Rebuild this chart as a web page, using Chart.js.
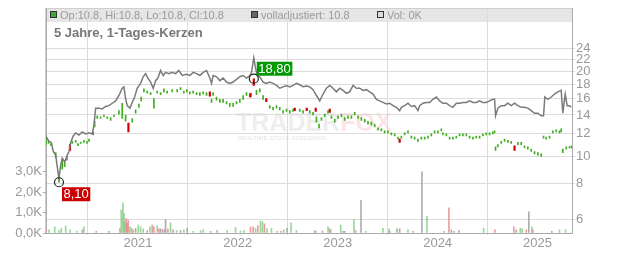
<!DOCTYPE html>
<html>
<head>
<meta charset="utf-8">
<script src="https://cdn.jsdelivr.net/npm/chart.js@4/dist/chart.umd.min.js"></script>
<style>
    body { margin: 0; background: #fff; }
    #wrap { width: 632px; height: 253px; }
</style>
</head>
<body>
<div id="wrap"><canvas id="kursChart" width="632" height="253"></canvas></div>
<script>
// Zeitachse als Dezimaljahre
const yearTicks = [2021, 2022, 2023, 2024, 2025];
const priceTicks = [24, 22, 20, 18, 16, 14, 12, 10, 8, 6];
const volTicks = [0, 1, 2, 3];

// volladjustiert (graue Linie)
const priceDates = [
    2020.077, 2020.11, 2020.133, 2020.153, 2020.177, 2020.20, 2020.21, 2020.227, 2020.243, 2020.267,
    2020.293, 2020.31, 2020.327, 2020.353, 2020.377, 2020.41, 2020.443, 2020.477, 2020.51, 2020.543,
    2020.56, 2020.577, 2020.61, 2020.643, 2020.677, 2020.71, 2020.743, 2020.777, 2020.81, 2020.843,
    2020.86, 2020.877, 2020.893, 2020.92, 2020.943, 2020.967, 2020.993, 2021.027, 2021.053, 2021.077,
    2021.10, 2021.127, 2021.153, 2021.177, 2021.20, 2021.227, 2021.253, 2021.277, 2021.31, 2021.343,
    2021.377, 2021.41, 2021.443, 2021.487, 2021.52, 2021.553, 2021.587, 2021.62, 2021.653, 2021.687,
    2021.72, 2021.737, 2021.753, 2021.787, 2021.82, 2021.853, 2021.887, 2021.92, 2021.953, 2021.987,
    2022.02, 2022.053, 2022.087, 2022.12, 2022.137, 2022.16, 2022.173, 2022.193, 2022.22, 2022.253,
    2022.287, 2022.32, 2022.353, 2022.387, 2022.42, 2022.453, 2022.487, 2022.52, 2022.553, 2022.587,
    2022.62, 2022.653, 2022.687, 2022.72, 2022.753, 2022.787, 2022.82, 2022.853, 2022.887, 2022.92,
    2022.953, 2022.987, 2023.02, 2023.053, 2023.087, 2023.12, 2023.153, 2023.187, 2023.22, 2023.253,
    2023.287, 2023.32, 2023.353, 2023.387, 2023.42, 2023.453, 2023.487, 2023.52, 2023.553, 2023.587,
    2023.62, 2023.637, 2023.67, 2023.703, 2023.737, 2023.77, 2023.803, 2023.82, 2023.853, 2023.887,
    2023.92, 2023.953, 2023.987, 2024.02, 2024.053, 2024.087, 2024.12, 2024.153, 2024.187, 2024.22,
    2024.253, 2024.287, 2024.32, 2024.353, 2024.387, 2024.42, 2024.453, 2024.487, 2024.52, 2024.553,
    2024.57, 2024.58, 2024.603, 2024.637, 2024.67, 2024.703, 2024.737, 2024.77, 2024.803, 2024.837,
    2024.87, 2024.903, 2024.937, 2024.97, 2025.003, 2025.037, 2025.06, 2025.073, 2025.103, 2025.137,
    2025.17, 2025.203, 2025.237, 2025.253, 2025.277, 2025.297, 2025.32, 2025.337
];
const priceValues = [
    11.8, 11.3, 11.2, 10.4, 10.1, 8.8, 8.4, 9.3, 9.85, 9.55,
    10.1, 10.4, 11.2, 11.8, 12.1, 11.9, 12.2, 12.0, 12.1, 12.0,
    12.9, 14.8, 14.8, 14.7, 15.0, 15.1, 15.4, 15.7, 16.4, 17.4,
    17.6, 16.0, 15.1, 14.8, 15.5, 16.2, 17.4, 18.1, 19.1, 19.6,
    18.9, 18.3, 17.4, 18.5, 18.9, 20.1, 19.3, 19.8, 19.6, 19.8,
    19.6, 20.1, 19.3, 19.5, 19.3, 19.8, 19.6, 19.3, 19.8, 20.1,
    18.9, 18.1, 19.3, 19.1, 18.5, 18.9, 18.3, 18.1, 18.3, 18.7,
    19.1, 19.3, 18.9, 19.3, 19.8, 22.3, 20.9, 19.3, 19.1, 18.3,
    18.1, 18.3, 18.1, 17.8, 17.4, 17.6, 17.8, 17.6, 17.8, 18.1,
    17.9, 17.6, 17.7, 17.6, 17.2, 16.4, 15.7, 16.6, 17.4, 17.8,
    17.4, 16.9, 17.4, 17.1, 16.7, 16.9, 17.8, 17.4, 17.4, 17.1,
    17.2, 16.9, 16.6, 15.9, 15.7, 15.5, 15.3, 15.4, 15.1, 14.9,
    14.5, 14.9, 15.1, 15.4, 15.0, 15.1, 14.5, 15.1, 15.4, 15.5,
    15.5, 15.9, 16.2, 15.7, 15.4, 15.4, 15.1, 14.9, 15.4, 15.4,
    15.5, 15.5, 15.7, 15.5, 15.5, 15.7, 15.5, 15.5, 15.7, 15.9,
    15.9, 13.9, 14.8, 15.1, 15.1, 15.4, 15.1, 15.4, 15.1, 14.9,
    14.9, 14.8, 14.5, 14.2, 14.2, 13.9, 13.9, 16.2, 15.9, 16.2,
    16.6, 16.9, 17.1, 14.2, 16.6, 15.1, 15.1, 14.9
];

// Tageskerzen, steigend (gruen): Tief / Hoch
const candleDates = [
    2020.08, 2020.105, 2020.13, 2020.177, 2020.21, 2020.243, 2020.267, 2020.29, 2020.343, 2020.377,
    2020.40, 2020.427, 2020.46, 2020.49, 2020.51, 2020.553, 2020.567, 2020.593, 2020.627, 2020.66,
    2020.693, 2020.727, 2020.76, 2020.81, 2020.843, 2020.877, 2020.943, 2020.977, 2021.01, 2021.033,
    2021.06, 2021.093, 2021.127, 2021.16, 2021.193, 2021.227, 2021.26, 2021.293, 2021.343, 2021.393,
    2021.427, 2021.46, 2021.49, 2021.52, 2021.553, 2021.587, 2021.62, 2021.653, 2021.687, 2021.737,
    2021.753, 2021.787, 2021.82, 2021.853, 2021.887, 2021.92, 2021.953, 2021.987, 2022.02, 2022.053,
    2022.087, 2022.12, 2022.187, 2022.22, 2022.253, 2022.32, 2022.353, 2022.387, 2022.42, 2022.453,
    2022.487, 2022.52, 2022.553, 2022.62, 2022.653, 2022.72, 2022.753, 2022.787, 2022.813, 2022.837,
    2022.87, 2022.903, 2022.937, 2022.97, 2023.003, 2023.037, 2023.07, 2023.103, 2023.137, 2023.17,
    2023.203, 2023.237, 2023.27, 2023.303, 2023.337, 2023.37, 2023.403, 2023.437, 2023.47, 2023.503,
    2023.537, 2023.57, 2023.603, 2023.637, 2023.67, 2023.703, 2023.737, 2023.77, 2023.803, 2023.837,
    2023.87, 2023.903, 2023.937, 2023.97, 2024.003, 2024.037, 2024.053, 2024.087, 2024.12, 2024.153,
    2024.187, 2024.22, 2024.253, 2024.287, 2024.32, 2024.353, 2024.387, 2024.42, 2024.453, 2024.487,
    2024.52, 2024.553, 2024.57, 2024.58, 2024.603, 2024.637, 2024.67, 2024.703, 2024.737, 2024.803,
    2024.837, 2024.87, 2024.903, 2024.937, 2024.97, 2025.003, 2025.037, 2025.06, 2025.087, 2025.12,
    2025.153, 2025.187, 2025.22, 2025.237, 2025.253, 2025.287, 2025.32, 2025.34
];
const candleLows = [
    11.0, 11.1, 10.9, 9.9, 8.1, 9.0, 9.2, 9.7, 11.1, 11.2,
    10.9, 11.1, 11.2, 11.1, 11.3, 11.9, 12.7, 13.6, 13.6, 13.8,
    13.6, 13.4, 13.8, 14.1, 13.6, 13.3, 13.2, 14.2, 14.9, 15.7,
    16.9, 16.7, 16.5, 14.8, 16.7, 16.5, 16.9, 16.7, 16.9, 16.9,
    17.2, 16.7, 16.9, 16.6, 16.7, 16.5, 16.4, 16.6, 16.4, 15.5,
    16.4, 15.8, 15.5, 15.5, 15.3, 15.0, 15.0, 15.3, 15.5, 15.9,
    16.4, 16.2, 16.5, 16.9, 15.9, 14.8, 14.6, 14.8, 14.6, 14.2,
    14.4, 14.2, 14.4, 14.4, 14.2, 14.2, 14.0, 13.2, 12.6, 13.4,
    13.8, 14.2, 13.6, 13.2, 13.6, 13.8, 13.4, 13.6, 13.6, 14.0,
    13.6, 13.4, 13.2, 13.0, 12.9, 12.7, 12.4, 12.3, 12.1, 12.1,
    11.9, 11.8, 11.5, 11.6, 11.9, 12.1, 11.6, 11.5, 11.3, 11.5,
    11.5, 11.6, 11.8, 12.1, 12.1, 12.3, 11.9, 11.8, 11.5, 11.5,
    11.6, 11.8, 11.8, 11.8, 11.6, 11.5, 11.6, 11.6, 11.8, 11.9,
    11.9, 12.0, 12.1, 10.5, 10.8, 11.1, 11.3, 11.2, 11.1, 11.0,
    11.0, 10.7, 10.6, 10.4, 10.2, 10.1, 10.0, 11.6, 11.5, 11.6,
    12.1, 12.2, 12.1, 12.2, 10.3, 10.6, 10.7, 10.7
];
const candleHighs = [
    11.8, 11.3, 11.1, 10.3, 8.6, 9.6, 9.5, 10.0, 11.3, 11.4,
    11.1, 11.2, 11.4, 11.3, 11.5, 12.2, 13.3, 13.9, 13.8, 14.0,
    13.8, 13.7, 14.0, 14.5, 15.4, 14.0, 13.6, 14.6, 15.3, 16.2,
    17.3, 17.0, 16.8, 16.0, 17.0, 16.8, 17.3, 17.0, 17.2, 17.2,
    17.5, 17.0, 17.2, 16.9, 17.0, 16.8, 16.8, 16.9, 16.8, 15.9,
    16.8, 16.2, 15.9, 15.9, 15.6, 15.4, 15.4, 15.6, 15.9, 16.4,
    16.8, 16.6, 17.1, 17.3, 16.4, 15.1, 14.9, 15.1, 14.9, 14.5,
    14.7, 14.5, 14.7, 14.7, 14.5, 14.5, 14.3, 13.8, 13.0, 13.7,
    14.1, 14.5, 13.9, 13.5, 13.9, 14.1, 13.7, 13.9, 13.9, 14.3,
    13.9, 13.7, 13.5, 13.3, 13.2, 13.0, 12.6, 12.5, 12.3, 12.3,
    12.1, 12.0, 11.7, 11.8, 12.1, 12.3, 11.8, 11.7, 11.5, 11.7,
    11.7, 11.8, 12.0, 12.3, 12.3, 12.5, 12.1, 12.0, 11.7, 11.7,
    11.8, 12.0, 12.0, 12.0, 11.8, 11.7, 11.8, 11.8, 12.0, 12.1,
    12.1, 12.2, 12.3, 10.8, 11.0, 11.3, 11.5, 11.4, 11.3, 11.2,
    11.2, 10.9, 10.8, 10.6, 10.4, 10.3, 10.2, 11.8, 11.7, 11.8,
    12.3, 12.4, 12.3, 12.5, 10.6, 10.8, 10.8, 10.9
];

// Tageskerzen, fallend (rot)
const redDates = [2020.32, 2020.905, 2021.72, 2022.127, 2022.16, 2022.285, 2022.57, 2022.69, 2022.78, 2022.92, 2023.62, 2024.77];
const redLows = [10.5, 12.2, 16.3, 16.2, 17.8, 15.6, 14.5, 14.5, 14.4, 14.3, 11.2, 10.5];
const redHighs = [11.0, 13.1, 16.9, 16.7, 18.8, 16.0, 14.8, 14.8, 14.8, 14.7, 11.5, 10.9];

// Volumen in Tausend, Art: g = steigend, r = fallend, n = neutral
const volDates = [
    2020.077, 2020.11, 2020.167, 2020.21, 2020.233, 2020.277, 2020.32, 2020.387, 2020.443, 2020.46,
    2020.583, 2020.71, 2020.82, 2020.833, 2020.85, 2020.86, 2020.87, 2020.883, 2020.893, 2020.903,
    2020.92, 2020.937, 2020.953, 2020.977, 2021.003, 2021.027, 2021.053, 2021.093, 2021.12, 2021.143,
    2021.16, 2021.193, 2021.21, 2021.227, 2021.247, 2021.267, 2021.277, 2021.30, 2021.327, 2021.353,
    2021.387, 2021.427, 2021.46, 2021.493, 2021.553, 2021.627, 2021.653, 2021.727, 2021.793, 2021.893,
    2021.977, 2022.027, 2022.06, 2022.127, 2022.153, 2022.177, 2022.20, 2022.227, 2022.247, 2022.267,
    2022.293, 2022.337, 2022.393, 2022.433, 2022.46, 2022.493, 2022.533, 2022.587, 2022.77, 2022.78,
    2022.847, 2022.903, 2022.92, 2022.93, 2023.03, 2023.053, 2023.07, 2023.163, 2023.18, 2023.233,
    2023.28, 2023.453, 2023.513, 2023.52, 2023.593, 2023.62, 2023.703, 2023.753, 2023.843, 2023.893,
    2024.063, 2024.113, 2024.137, 2024.163, 2024.213, 2024.46, 2024.573, 2024.763, 2024.787, 2024.827,
    2024.847, 2024.887, 2024.913, 2024.943, 2024.953, 2025.143, 2025.22, 2025.28
];
const volValues = [
    0.2, 0.15, 0.3, 0.12, 0.23, 0.34, 0.15, 0.1, 0.15, 0.3,
    0.08, 0.08, 0.23, 1.12, 1.48, 0.96, 0.55, 0.71, 0.47, 0.63,
    0.3, 0.23, 0.15, 0.23, 0.39, 0.3, 0.2, 0.12, 0.3, 0.39,
    0.3, 0.36, 0.2, 0.2, 0.18, 0.15, 0.67, 0.2, 0.5, 0.15,
    0.12, 0.12, 0.15, 0.23, 0.08, 0.12, 0.15, 0.08, 0.12, 0.12,
    0.28, 0.1, 0.12, 0.3, 0.3, 0.23, 0.36, 0.58, 0.55, 0.45,
    0.2, 0.23, 0.08, 0.1, 0.15, 0.23, 0.5, 0.12, 0.12, 0.08,
    0.1, 0.3, 0.2, 0.15, 0.39, 0.08, 0.08, 0.67, 0.12, 1.6,
    0.08, 0.23, 0.2, 0.08, 0.2, 0.2, 0.15, 0.08, 3.0, 0.83,
    0.08, 1.23, 0.15, 0.08, 0.12, 0.23, 0.15, 0.3, 0.15, 0.23,
    0.2, 0.15, 1.04, 0.3, 0.15, 0.08, 0.15, 0.15
];
const volKinds = [
    'r', 'g', 'g', 'g', 'g', 'g', 'g', 'g', 'n', 'g',
    'r', 'n', 'r', 'g', 'g', 'g', 'g', 'r', 'r', 'r',
    'g', 'g', 'r', 'n', 'g', 'g', 'g', 'n', 'g', 'r',
    'r', 'g', 'r', 'n', 'r', 'n', 'n', 'r', 'g', 'n',
    'g', 'n', 'g', 'n', 'g', 'g', 'g', 'r', 'n', 'g',
    'g', 'g', 'g', 'r', 'r', 'g', 'r', 'g', 'g', 'r',
    'g', 'g', 'r', 'r', 'g', 'n', 'g', 'g', 'g', 'r',
    'n', 'g', 'g', 'r', 'g', 'n', 'n', 'g', 'r', 'n',
    'g', 'g', 'g', 'n', 'n', 'n', 'g', 'r', 'n', 'g',
    'g', 'r', 'n', 'n', 'n', 'g', 'r', 'r', 'n', 'g',
    'g', 'r', 'n', 'g', 'r', 'n', 'g', 'g'
];

// Tief / Hoch Markierungen
const markDates = [2020.21, 2022.16];
const markValues = [8.10, 18.80];
const markLabels = ['8,10', '18,80'];
const markColors = ['#cc0000', '#009900'];

const volColors = { g: 'rgba(120,200,120,0.75)', r: 'rgba(235,130,140,0.8)', n: 'rgba(160,160,160,0.85)' };
const FONT = "'Liberation Sans', Arial, sans-serif";

// Kopfzeile, Titel und Wasserzeichen
const headerPlugin = {
    id: 'header',
    beforeDraw(chart) {
        const { ctx, chartArea } = chart;
        const l = chartArea.left, r = chartArea.right;
        ctx.save();
        ctx.fillStyle = '#e6e6e6';
        ctx.fillRect(l, 8, r - l, 14);
        ctx.strokeStyle = '#cfcfcf';
        ctx.lineWidth = 1;
        ctx.strokeRect(l - 0.5, 8.5, r - l + 1, 225);

        const items = [
            { x: 50, fill: '#3aaa35', text: 'Op:10.8, Hi:10.8, Lo:10.8, Cl:10.8' },
            { x: 251, fill: '#666666', text: 'volladjustiert: 10.8' },
            { x: 377, fill: '#dddddd', text: 'Vol: 0K' }
        ];
        ctx.font = '11px ' + FONT;
        ctx.textBaseline = 'middle';
        items.forEach(it => {
            ctx.fillStyle = it.fill;
            ctx.fillRect(it.x + 0.5, 11.5, 6, 6);
            ctx.strokeStyle = '#333';
            ctx.strokeRect(it.x + 0.5, 11.5, 6, 6);
            ctx.fillStyle = '#999';
            ctx.fillText(it.text, it.x + 10, 15.5);
        });

        ctx.font = 'bold 13px ' + FONT;
        ctx.fillStyle = '#777';
        ctx.fillText('5 Jahre, 1-Tages-Kerzen', 54, 33);

        // Wasserzeichen
        ctx.font = 'bold 25px ' + FONT;
        ctx.textBaseline = 'alphabetic';
        ctx.fillStyle = 'rgba(200,200,200,0.3)';
        ctx.fillText('TRADER', 236, 131);
        const w = ctx.measureText('TRADER').width;
        ctx.fillStyle = 'rgba(240,150,160,0.25)';
        ctx.fillText('FOX', 236 + w, 131);
        ctx.font = '6px ' + FONT;
        ctx.fillStyle = 'rgba(190,190,190,0.45)';
        ctx.fillText('REALTIME STOCK SCREENING', 238, 140);
        ctx.restore();
    }
};

// Beschriftung der Markierungen
const markLabelPlugin = {
    id: 'markLabels',
    afterDatasetsDraw(chart) {
        const { ctx, scales } = chart;
        ctx.save();
        ctx.font = '13px ' + FONT;
        ctx.textBaseline = 'middle';
        markDates.forEach((d, i) => {
            const px = scales.x.getPixelForValue(d);
            const py = scales.y.getPixelForValue(markValues[i]);
            const tw = ctx.measureText(markLabels[i]).width;
            const bx = px + 3;
            const by = i === 0 ? py + 5 : py - 17;
            ctx.fillStyle = markColors[i];
            ctx.fillRect(bx, by, tw + 3, 14);
            ctx.fillStyle = '#fff';
            ctx.fillText(markLabels[i], bx + 1.5, by + 7.5);
        });
        ctx.restore();
    }
};

new Chart(document.getElementById('kursChart'), {
    type: 'line',
    data: {
        datasets: [
            {
                type: 'line',
                order: 0,
                data: markDates.map((d, i) => ({ x: d, y: markValues[i] })),
                yAxisID: 'y',
                showLine: false,
                pointRadius: 4.5,
                pointBorderWidth: 1.2,
                pointBorderColor: '#222',
                pointBackgroundColor: 'rgba(255,255,255,0)'
            },
            {
                type: 'line',
                order: 1,
                data: priceDates.map((d, i) => ({ x: d, y: priceValues[i] })),
                yAxisID: 'y',
                borderColor: '#7a7a7a',
                borderWidth: 1.5,
                pointRadius: 0,
                tension: 0
            },
            {
                type: 'bar',
                order: 2,
                data: redDates.map((d, i) => ({ x: d, y: [redLows[i], redHighs[i]] })),
                yAxisID: 'y',
                backgroundColor: '#cc0000',
                barThickness: 1.5,
                minBarLength: 2,
                grouped: false
            },
            {
                type: 'bar',
                order: 2,
                data: candleDates.map((d, i) => ({ x: d, y: [candleLows[i], candleHighs[i]] })),
                yAxisID: 'y',
                backgroundColor: '#3fae1f',
                barThickness: 1,
                minBarLength: 1.5,
                grouped: false
            },
            {
                type: 'bar',
                order: 3,
                data: volDates.map((d, i) => ({ x: d, y: volValues[i] })),
                yAxisID: 'yv',
                backgroundColor: volKinds.map(k => volColors[k]),
                barThickness: 1,
                grouped: false
            }
        ]
    },
    options: {
        responsive: false,
        animation: false,
        events: [],
        layout: { padding: { top: 8 } },
        plugins: { legend: { display: false }, tooltip: { enabled: false } },
        scales: {
            x: {
                type: 'linear',
                position: 'bottom',
                min: 2020.08,
                max: 2025.345,
                offset: false,
                afterBuildTicks: s => { s.ticks = yearTicks.map(v => ({ value: v })); },
                afterFit: s => { s.height = 20; },
                grid: { color: '#dcdcdc', tickLength: 2 },
                border: { color: '#aaa' },
                ticks: {
                    color: '#999',
                    font: { family: FONT, size: 13 },
                    padding: 1,
                    maxRotation: 0,
                    callback: v => String(v)
                }
            },
            y: {
                type: 'logarithmic',
                position: 'right',
                min: 5.36,
                max: 33.2,
                afterBuildTicks: s => { s.ticks = priceTicks.map(v => ({ value: v })); },
                afterFit: s => { s.width = 60; },
                grid: { color: '#dcdcdc', tickLength: 3 },
                border: { color: '#aaa' },
                ticks: {
                    color: '#999',
                    font: { family: FONT, size: 13 },
                    padding: 1,
                    callback: v => String(v)
                }
            },
            yv: {
                type: 'linear',
                position: 'left',
                min: 0,
                max: 10.98,
                afterBuildTicks: s => { s.ticks = volTicks.map(v => ({ value: v })); },
                afterFit: s => { s.width = 46; },
                grid: { drawOnChartArea: false, color: '#aaa', tickLength: 3 },
                border: { color: '#aaa' },
                ticks: {
                    color: '#999',
                    font: { family: FONT, size: 13 },
                    padding: 1,
                    callback: v => v.toFixed(1).replace('.', ',') + 'K'
                }
            }
        }
    },
    plugins: [headerPlugin, markLabelPlugin]
});
</script>
</body>
</html>
